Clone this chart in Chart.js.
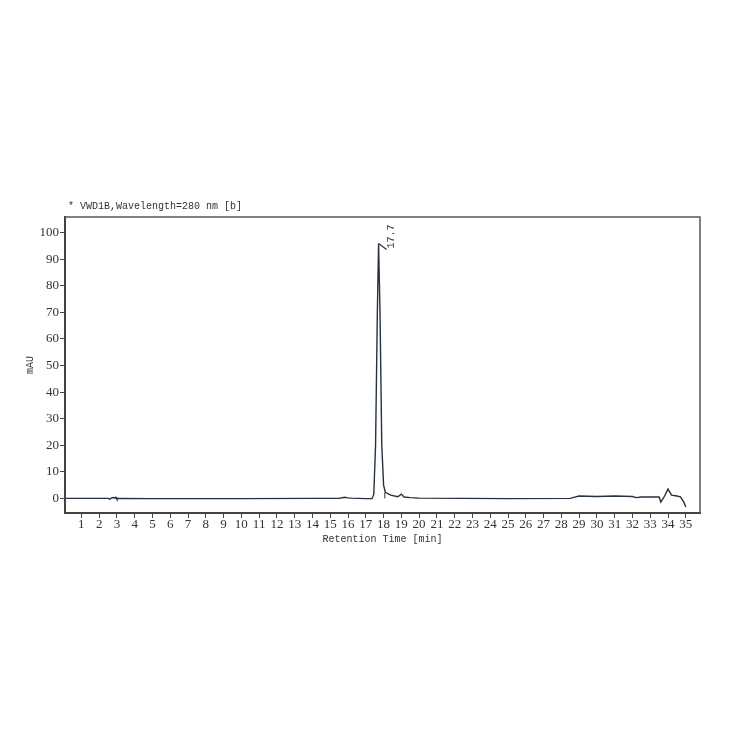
<!DOCTYPE html>
<html>
<head>
<meta charset="utf-8">
<script src="https://cdn.jsdelivr.net/npm/chart.js@4"></script>
<style>
  body { margin: 0; background: #fff; }
  canvas { display: block; }
</style>
</head>
<body>
<canvas id="chrom" width="737" height="737"></canvas>
<script>
// retention time [min] and signal [mAU]
var times = [0.1, 2.5, 2.6, 2.7, 2.8, 2.9, 2.95, 3.0, 3.1, 5, 10, 14, 15.5, 15.8, 16.0, 16.2, 17.0, 17.35,
             17.45, 17.55, 17.65, 17.72, 17.8, 17.9, 18.0, 18.1, 18.4, 18.8, 19.0, 19.15, 19.5, 20, 25, 28.5,
             28.7, 29, 30, 31, 32, 32.2, 32.5, 33.5, 33.6, 33.8, 34.0, 34.2, 34.5, 34.7, 34.9, 35.0];
var signal = [0, 0, -0.3, 0.2, 0.3, 0.1, 0.4, -0.3, 0, -0.1, -0.1, 0, 0, 0.4, 0.2, 0.1, -0.1, -0.1,
              1.5, 20, 70, 95.9, 70, 20, 5, 2.3, 1.2, 0.6, 1.6, 0.5, 0.3, 0.1, -0.1, 0,
              0.4, 0.9, 0.7, 0.9, 0.7, 0.3, 0.5, 0.5, -1.4, 0.8, 3.5, 1.2, 0.9, 0.6, -1.5, -3.2];

var peakTimes = [17.72];
var peakHeights = [95.9];
var peakLabels = ['17.7'];

// integration baseline drop line after the main peak
var dropTimes = [18.07, 18.07];
var dropValues = [0, 2.2];

var xTicks = [];
for (var i = 1; i <= 35; i++) xTicks.push(i);
var yTicks = [0, 10, 20, 30, 40, 50, 60, 70, 80, 90, 100];

var lineColor = '#25323f';
var monoFont = { family: 'Liberation Mono', size: 10 };
var tickFont = { family: 'Liberation Serif', size: 13 };

function pts(xs, ys) {
    return xs.map(function (x, i) { return { x: x, y: ys[i] }; });
}

var extras = {
    id: 'extras',
    afterDraw: function (chart) {
        var ctx = chart.ctx, a = chart.chartArea;
        var xs = chart.scales.x, ys = chart.scales.y;
        ctx.save();
        // frame on top and right
        ctx.strokeStyle = '#555';
        ctx.lineWidth = 1.5;
        ctx.beginPath();
        ctx.moveTo(a.left, a.top);
        ctx.lineTo(a.right, a.top);
        ctx.lineTo(a.right, a.bottom);
        ctx.stroke();

        // signal name
        ctx.fillStyle = '#333';
        ctx.font = '10px "Liberation Mono"';
        ctx.textBaseline = 'alphabetic';
        ctx.fillText('* VWD1B,Wavelength=280 nm [b]', a.left + 3, a.top - 8);

        // peak labels
        peakTimes.forEach(function (t, i) {
            var px = xs.getPixelForValue(t), py = ys.getPixelForValue(peakHeights[i]);
            ctx.strokeStyle = lineColor;
            ctx.lineWidth = 1.2;
            ctx.beginPath();
            ctx.moveTo(px, py);
            ctx.lineTo(px + 8, py + 6);
            ctx.stroke();
            ctx.save();
            ctx.translate(px + 13, py + 5);
            ctx.rotate(-Math.PI / 2);
            ctx.fillStyle = '#333';
            ctx.font = '10px "Liberation Mono"';
            ctx.textBaseline = 'middle';
            ctx.fillText(peakLabels[i], 0, 0);
            ctx.restore();
        });
        ctx.restore();
    }
};

new Chart(document.getElementById('chrom').getContext('2d'), {
    type: 'line',
    data: {
        datasets: [{
            data: pts(times, signal),
            borderColor: lineColor,
            borderWidth: 1.4,
            pointRadius: 0,
            tension: 0,
            fill: false
        }, {
            data: pts(dropTimes, dropValues),
            borderColor: lineColor,
            borderWidth: 1,
            pointRadius: 0,
            fill: false
        }]
    },
    options: {
        responsive: false,
        animation: false,
        layout: { padding: { left: 24, top: 217, right: 37, bottom: 192 } },
        plugins: { legend: { display: false }, tooltip: { enabled: false } },
        scales: {
            x: {
                type: 'linear',
                min: 0.08,
                max: 35.8,
                afterFit: function (s) { s.height = 32; },
                afterBuildTicks: function (s) { s.ticks = xTicks.map(function (v) { return { value: v }; }); },
                ticks: { font: tickFont, color: '#333', padding: -1, maxRotation: 0, autoSkip: false },
                grid: { drawOnChartArea: false, tickLength: 5, color: '#444' },
                border: { color: '#444', width: 2 },
                title: { display: true, text: 'Retention Time [min]', font: monoFont, color: '#333', padding: { top: 0, bottom: 0 } }
            },
            y: {
                min: -5.5,
                max: 105.9,
                afterFit: function (s) { s.width = 41; },
                afterBuildTicks: function (s) { s.ticks = yTicks.map(function (v) { return { value: v }; }); },
                ticks: { font: tickFont, color: '#333', padding: 1 },
                grid: { drawOnChartArea: false, tickLength: 5, color: '#444' },
                border: { color: '#444', width: 2 },
                title: { display: true, text: 'mAU', font: monoFont, color: '#333', padding: 0 }
            }
        }
    },
    plugins: [extras]
});
</script>
</body>
</html>
